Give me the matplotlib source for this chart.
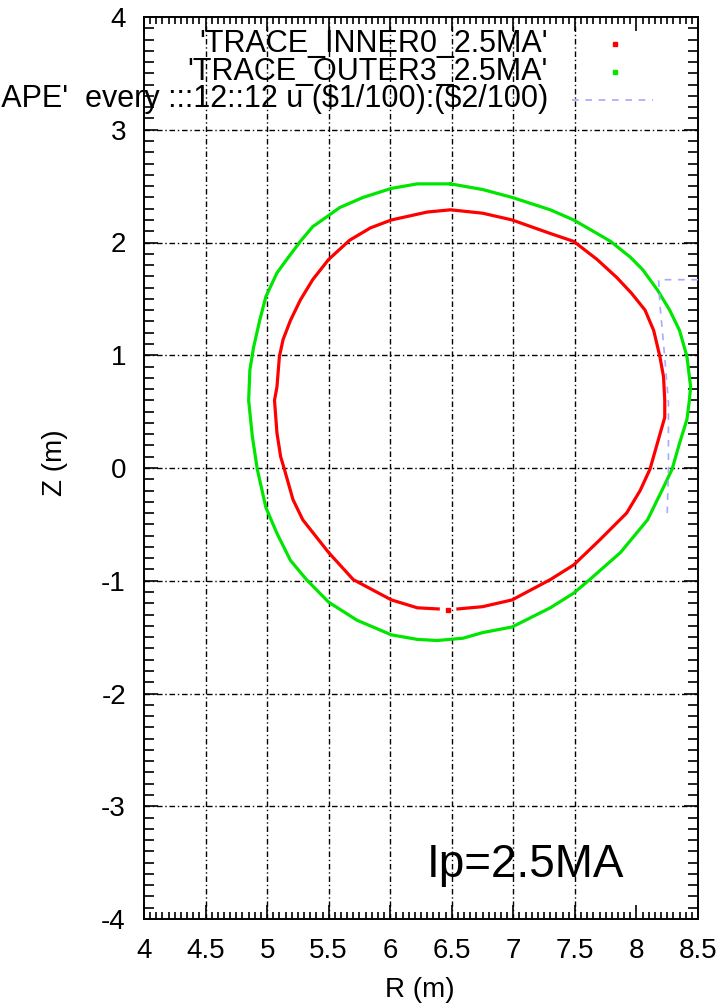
import numpy as np
import matplotlib.pyplot as plt
from matplotlib.ticker import MultipleLocator

plt.rcParams['font.family'] = ['Liberation Sans', 'DejaVu Sans']

# inner trace (red); small gap near R~6.47 at the bottom
inner_R = [6.55, 6.75, 6.99, 7.30, 7.49, 7.70, 7.92, 8.03, 8.11, 8.17, 8.23, 8.23, 8.22,
           8.19, 8.14, 8.07, 7.96, 7.84, 7.68, 7.49, 7.30, 6.99, 6.75, 6.49, 6.30, 6.01,
           5.84, 5.67, 5.50, 5.37, 5.27, 5.19, 5.13, 5.10, 5.08, 5.06, 5.08, 5.11, 5.14,
           5.21, 5.29, 5.50, 5.70, 6.01, 6.22, 6.39]
inner_Z = [-1.25, -1.23, -1.17, -0.99, -0.86, -0.64, -0.40, -0.20, -0.01, 0.22, 0.45, 0.60, 0.81,
           0.99, 1.22, 1.40, 1.55, 1.69, 1.85, 2.01, 2.08, 2.20, 2.26, 2.29, 2.27, 2.20,
           2.13, 2.02, 1.85, 1.67, 1.49, 1.31, 1.14, 0.99, 0.72, 0.60, 0.31, 0.10, -0.01,
           -0.28, -0.46, -0.75, -0.99, -1.17, -1.24, -1.25]
inner_dot = (6.47, -1.26)

# outer trace (green)
outer_R = [6.49, 6.75, 6.99, 7.30, 7.49, 7.68, 7.79, 7.95, 8.05, 8.17, 8.27, 8.35, 8.41,
           8.44, 8.43, 8.41, 8.35, 8.29, 8.22, 8.09, 7.87, 7.62, 7.49, 7.30, 6.99, 6.75,
           6.59, 6.38, 6.22, 6.01, 5.73, 5.50, 5.32, 5.19, 5.08, 4.99, 4.92, 4.88, 4.85,
           4.86, 4.89, 4.94, 4.99, 5.08, 5.16, 5.27, 5.37, 5.50, 5.59, 5.78, 6.01, 6.22, 6.49]
outer_Z = [2.52, 2.47, 2.40, 2.29, 2.20, 2.08, 2.01, 1.87, 1.76, 1.58, 1.40, 1.22, 0.99,
           0.72, 0.60, 0.43, 0.22, -0.01, -0.17, -0.46, -0.75, -0.99, -1.11, -1.24, -1.41, -1.46,
           -1.51, -1.53, -1.52, -1.48, -1.35, -1.19, -0.99, -0.82, -0.58, -0.35, -0.01, 0.28, 0.60,
           0.87, 1.07, 1.31, 1.52, 1.73, 1.85, 2.01, 2.14, 2.24, 2.31, 2.40, 2.48, 2.52, 2.52]

# 'SHAPE' (blue dashed)
shape_R = [8.50, 8.18, 8.19, 8.23, 8.26, 8.26, 8.25]
shape_Z = [1.67, 1.67, 1.46, 0.98, 0.58, -0.01, -0.40]

labels = ["'TRACE_INNER0_2.5MA'", "'TRACE_OUTER3_2.5MA'",
          "'SHAPE'  every :::12::12 u ($1/100):($2/100)"]
colors = ['#ff0000', '#00e600', '#a8a8ff']

xticks = [4, 4.5, 5, 5.5, 6, 6.5, 7, 7.5, 8, 8.5]
yticks = [-4, -3, -2, -1, 0, 1, 2, 3, 4]

W, H = 726, 1007
fig = plt.figure(figsize=(W / 100, H / 100), dpi=100)
ax = fig.add_axes([144 / W, 1 - 919 / H, 554 / W, 902 / H])

ax.plot(inner_R, inner_Z, color=colors[0], lw=2.3, zorder=3, solid_joinstyle='round')
ax.plot([inner_dot[0]], [inner_dot[1]], 's', color=colors[0], ms=2.5, zorder=3)
ax.plot(outer_R, outer_Z, color=colors[1], lw=2.3, zorder=3, solid_joinstyle='round')
ax.plot(shape_R, shape_Z, color=colors[2], lw=1.2, ls=(0, (4, 4)), zorder=4)

ax.set_xlim(4, 8.5)
ax.set_ylim(-4, 4)
ax.set_xticks(xticks)
ax.set_xticklabels([f'{t:g}' for t in xticks])
ax.set_yticks(yticks)
ax.set_yticklabels([f'{t:g}' for t in yticks])
ax.xaxis.set_minor_locator(MultipleLocator(0.05))
ax.yaxis.set_minor_locator(MultipleLocator(0.1))
ax.tick_params(which='both', direction='in', top=True, right=True, width=1.2)
ax.tick_params(which='major', length=10, labelsize=20)
ax.tick_params(axis='x', which='major', pad=14)
ax.tick_params(axis='y', which='major', pad=13)
ax.tick_params(axis='x', which='minor', length=5)
ax.tick_params(axis='y', which='minor', length=7)
for s in ax.spines.values():
    s.set_linewidth(1.4)

# grid: horizontal full, vertical only 4.5 .. 7.5 like the original
gridstyle = dict(color='black', lw=1.0, ls=(0, (4, 2, 1, 2)), zorder=1)
for y in yticks[1:-1]:
    ax.axhline(y, **gridstyle)
for x in xticks[1:-2]:
    ax.axvline(x, **gridstyle)

# gnuplot style key, text right aligned, sample to the right
base_y = [52, 80, 107]
for i, lab in enumerate(labels):
    fig.text(548 / W, 1 - base_y[i] / H, lab, ha='right', va='baseline',
             fontsize=22, parse_math=False)
fig.lines.append(plt.Line2D([615 / W], [1 - 44 / H], transform=fig.transFigure,
                            color=colors[0], marker='s', ms=3, ls='none'))
fig.lines.append(plt.Line2D([615 / W], [1 - 72 / H], transform=fig.transFigure,
                            color=colors[1], marker='s', ms=3, ls='none'))
fig.lines.append(plt.Line2D([572 / W, 653 / W], [1 - 100 / H, 1 - 100 / H],
                            transform=fig.transFigure, color=colors[2], lw=1.2,
                            ls=(0, (4, 4))))

fig.text(420 / W, 1 - 990 / H, 'R (m)', ha='center', va='center', fontsize=20)
fig.text(55 / W, 1 - 463 / H, 'Z (m)', ha='center', va='center', rotation=90, fontsize=20)
fig.text(427 / W, 1 - 877 / H, 'Ip=2.5MA', ha='left', va='baseline', fontsize=33)

fig.savefig('out.png', dpi=100)
